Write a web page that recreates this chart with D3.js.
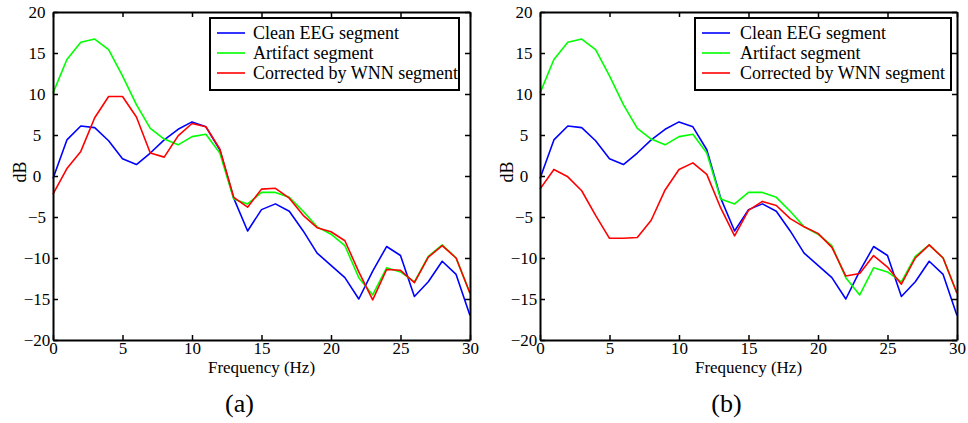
<!DOCTYPE html>
<html>
<head>
<meta charset="utf-8">
<script src="https://cdn.jsdelivr.net/npm/d3@7"></script>
<style>
  html, body { margin: 0; padding: 0; background: #fff; }
  svg { display: block; font-family: "Liberation Serif", "Times New Roman", serif; }
</style>
</head>
<body>
<svg id="chart" width="968" height="423"></svg>
<script>
// Frequency bins (Hz)
const freqs = d3.range(0, 31);

// Power spectra in dB for each segment
const cleanEEG = [-0.3, 4.4, 6.1, 5.9, 4.3, 2.1, 1.4, 2.8, 4.4, 5.7, 6.6, 6.0, 3.2,
  -2.7, -6.7, -4.1, -3.4, -4.3, -6.7, -9.4, -10.9, -12.4, -15.0, -11.6, -8.6, -9.7,
  -14.7, -12.9, -10.4, -12.0, -17.0];
const artifact = [10.1, 14.2, 16.3, 16.7, 15.4, 12.2, 8.7, 5.8, 4.5, 3.8, 4.8, 5.1, 2.8,
  -2.8, -3.4, -2.0, -2.0, -2.6, -4.3, -6.2, -7.1, -8.5, -12.4, -14.5, -11.2, -11.7,
  -12.9, -9.8, -8.4, -10.0, -14.3];
const correctedA = [-2.2, 0.9, 3.0, 7.1, 9.7, 9.7, 7.2, 2.8, 2.3, 4.9, 6.4, 6.0, 3.3,
  -2.6, -3.8, -1.6, -1.5, -2.7, -4.8, -6.3, -6.8, -7.9, -11.7, -15.1, -11.4, -11.5,
  -13.0, -9.9, -8.5, -10.0, -14.3];
const correctedB = [-1.6, 0.8, -0.1, -1.8, -4.8, -7.6, -7.6, -7.5, -5.4, -1.7, 0.8, 1.6, 0.2,
  -3.9, -7.3, -4.2, -3.1, -3.6, -5.2, -6.2, -7.0, -8.7, -12.2, -11.9, -9.7, -11.1,
  -13.2, -10.0, -8.4, -10.0, -14.3];

const xTicks = [0, 5, 10, 15, 20, 25, 30];
const yTicks = [-20, -15, -10, -5, 0, 5, 10, 15, 20];
const seriesNames = ["Clean EEG segment", "Artifact segment", "Corrected by WNN segment"];
const seriesColors = ["#0000ff", "#00ff00", "#ff0000"];
const panelLabels = ["(a)", "(b)"];

const svg = d3.select("#chart");

const panels = [
  { left: 53, right: 470, legendX: 210, legendW: 249, textX: 43, corrected: correctedA, label: panelLabels[0] },
  { left: 540, right: 957, legendX: 695, legendW: 256, textX: 45, corrected: correctedB, label: panelLabels[1] }
];
const plotTop = 12, plotBottom = 340;

panels.forEach(p => {
  const x = d3.scaleLinear().domain([0, 30]).range([p.left, p.right]);
  const y = d3.scaleLinear().domain([-20, 20]).range([plotBottom, plotTop]);
  const g = svg.append("g");

  const line = d3.line().x((d, i) => x(freqs[i])).y(d => y(d));
  const series = [cleanEEG, artifact, p.corrected];

  // Spectra lines
  series.forEach((s, k) => {
    g.append("path")
      .datum(s)
      .attr("fill", "none")
      .attr("stroke", seriesColors[k])
      .attr("stroke-width", 1.6)
      .attr("stroke-linejoin", "round")
      .attr("d", line);
  });

  // Axes with inward ticks on all four sides
  const fs = "17px";
  const axB = g.append("g").attr("transform", `translate(0,${plotBottom})`)
    .call(d3.axisBottom(x).tickValues(xTicks).tickSize(-5).tickSizeOuter(0).tickPadding(3));
  const axT = g.append("g").attr("transform", `translate(0,${plotTop})`)
    .call(d3.axisTop(x).tickValues(xTicks).tickSize(-5).tickSizeOuter(0).tickFormat(""));
  const axL = g.append("g").attr("transform", `translate(${p.left},0)`)
    .call(d3.axisLeft(y).tickValues(yTicks).tickSize(-5).tickSizeOuter(0).tickPadding(0));
  const axR = g.append("g").attr("transform", `translate(${p.right},0)`)
    .call(d3.axisRight(y).tickValues(yTicks).tickSize(-5).tickSizeOuter(0).tickFormat(""));

  [axB, axT, axL, axR].forEach(a => {
    a.select(".domain").attr("stroke", "#000").attr("stroke-width", 2);
    a.selectAll(".tick line").attr("stroke", "#000").attr("stroke-width", 1.5);
    a.selectAll("text").attr("fill", "#000").style("font-size", fs)
      .style("font-family", '"Liberation Serif", serif');
  });
  axL.selectAll(".tick text").attr("text-anchor", "middle").attr("x", -16);
  axB.selectAll(".tick text").attr("dy", "0.62em");

  // Axis titles
  g.append("text")
    .attr("x", (p.left + p.right) / 2).attr("y", 373)
    .attr("text-anchor", "middle").style("font-size", "17px")
    .text("Frequency (Hz)");
  g.append("text")
    .attr("transform", `translate(${p.left - 27},${y(0) - 4}) rotate(-90)`)
    .attr("text-anchor", "middle").style("font-size", "18px")
    .text("dB");

  // Legend
  const lg = g.append("g").attr("transform", `translate(${p.legendX},18)`);
  lg.append("rect").attr("width", p.legendW).attr("height", 72)
    .attr("fill", "#fff").attr("stroke", "#000").attr("stroke-width", 2);
  seriesNames.forEach((name, k) => {
    const yy = 15 + k * 20;
    lg.append("line").attr("x1", 7).attr("x2", 35).attr("y1", yy).attr("y2", yy)
      .attr("stroke", seriesColors[k]).attr("stroke-width", 1.6);
    lg.append("text").attr("x", p.textX).attr("y", yy)
      .attr("dy", "0.35em").style("font-size", "18px").text(name);
  });

  // Panel caption
  g.append("text")
    .attr("x", (p.left + p.right) / 2 - 22).attr("y", 412)
    .attr("text-anchor", "middle").style("font-size", "26px")
    .text(p.label);
});
</script>
</body>
</html>
